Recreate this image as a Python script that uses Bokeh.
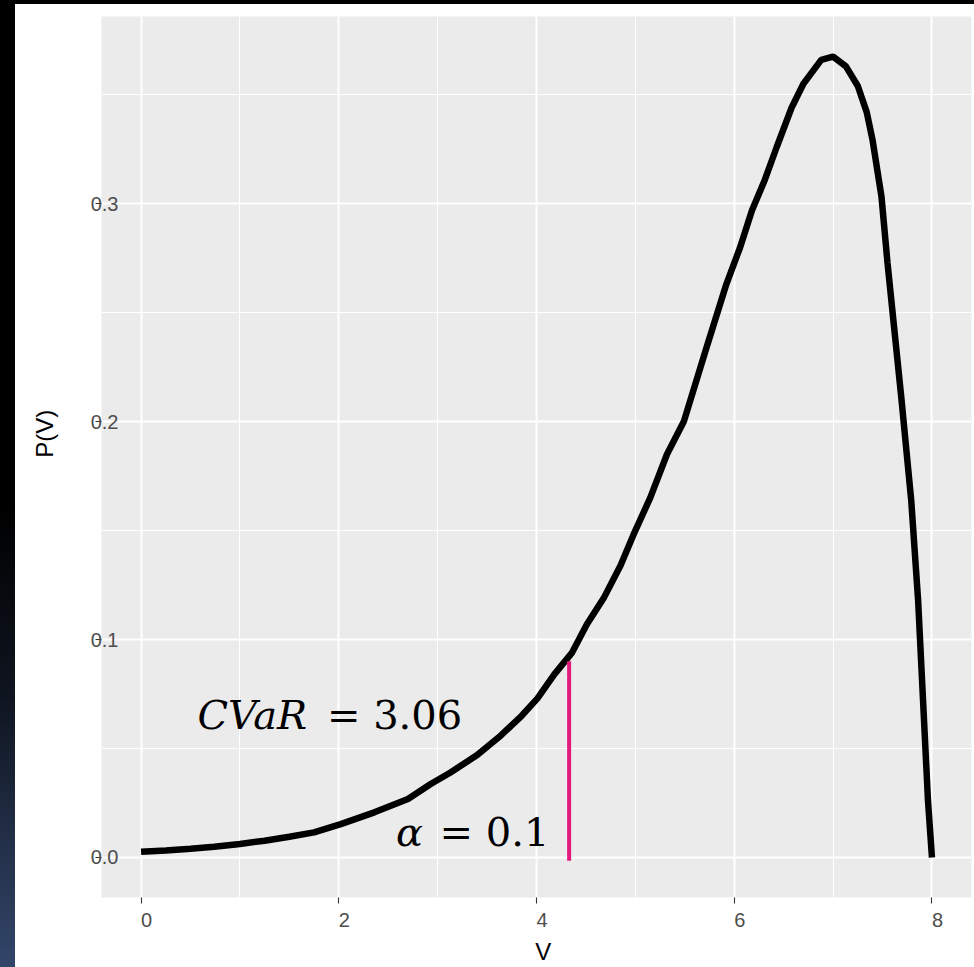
from bokeh.plotting import figure
from bokeh.models import Range1d, FixedTicker, CustomJSTickFormatter, Div
from bokeh.layouts import column, row
from bokeh.core.properties import value
from bokeh.embed import file_html
from bokeh.resources import INLINE

# Density of V
v = [0.00, 0.25, 0.50, 0.74, 1.00, 1.25, 1.50, 1.75, 2.02, 2.36, 2.70, 2.93,
     3.13, 3.40, 3.64, 3.85, 4.01, 4.18, 4.36, 4.51, 4.68, 4.85, 4.98, 5.15,
     5.32, 5.49, 5.72, 5.92, 6.06, 6.18, 6.31, 6.43, 6.58, 6.70, 6.88, 7.00,
     7.13, 7.25, 7.34, 7.40, 7.49, 7.55, 7.62, 7.69, 7.79, 7.86, 7.91, 7.96, 8.00]
pv = [0.0026, 0.0032, 0.0040, 0.0049, 0.0062, 0.0077, 0.0095, 0.0115, 0.0153, 0.0207, 0.0268, 0.0337,
      0.0390, 0.0470, 0.0560, 0.0650, 0.0730, 0.0840, 0.0940, 0.1070, 0.1190, 0.1340, 0.1480, 0.1650,
      0.1850, 0.2000, 0.2340, 0.2630, 0.2800, 0.2970, 0.3110, 0.3260, 0.3440, 0.3550, 0.3660, 0.3675,
      0.3630, 0.3540, 0.3420, 0.3290, 0.3030, 0.2730, 0.2420, 0.2110, 0.1640, 0.1180, 0.0720, 0.0260, 0.0000]

# VaR cut at alpha = 0.1
alpha_v = [4.33]
alpha_lo = [-0.0015]
alpha_hi = [0.090]

x_major = [0, 2, 4, 6, 8]
x_minor = [1, 3, 5, 7]
y_major = [0.0, 0.1, 0.2, 0.3]
y_minor = [0.05, 0.15, 0.25, 0.35]

PAD = "\u00a0"

y_lo = min(pv) - 0.05 * (max(pv) - min(pv))
y_hi = max(pv) + 0.05 * (max(pv) - min(pv))

p = figure(width=959, height=963,
           x_range=Range1d(-0.4, 8.4), y_range=Range1d(y_lo, y_hi),
           output_backend="svg", toolbar_location=None,
           background_fill_color="#EBEBEB", border_fill_color="white",
           min_border_left=86, min_border_right=3, min_border_top=12,
           min_border_bottom=70)
p.outline_line_color = None
p.margin = 0

# grid
p.xaxis.ticker = FixedTicker(ticks=x_major, minor_ticks=x_minor)
p.yaxis.ticker = FixedTicker(ticks=y_major, minor_ticks=y_minor)
for g in (p.xgrid[0], p.ygrid[0]):
    g.grid_line_color = "white"
    g.grid_line_width = 2
    g.minor_grid_line_color = "white"
    g.minor_grid_line_width = 1.1

# axes
for ax in (p.xaxis[0], p.yaxis[0]):
    ax.axis_line_color = None
    ax.major_tick_line_color = "#333333"
    ax.major_tick_line_width = 1.1
    ax.major_tick_out = 6
    ax.major_tick_in = 0
    ax.minor_tick_out = 0
    ax.minor_tick_in = 0
    ax.minor_tick_line_color = None
    ax.major_label_text_font = "Liberation Sans"
    ax.major_label_text_font_size = "20px"
    ax.major_label_text_color = "#4D4D4D"
    ax.axis_label_text_font = "Liberation Sans"
    ax.axis_label_text_font_size = "24px"
    ax.axis_label_text_font_style = "normal"
    ax.axis_label_text_color = "black"

p.xaxis.formatter = CustomJSTickFormatter(code="return '\\u00a0\\u00a0' + tick.toFixed(0);")
p.yaxis.formatter = CustomJSTickFormatter(code="return tick.toFixed(1);")
p.xaxis.major_label_standoff = 5
p.yaxis.major_label_standoff = -23
p.xaxis.axis_label = PAD * 2 + "V"
p.xaxis.axis_label_standoff = 4
p.yaxis.axis_label = PAD * 7 + "P(V)"
p.yaxis.axis_label_standoff = 30

# density curve
p.line(v, pv, line_color="black", line_width=6.5)

# alpha cut
p.segment(x0=alpha_v, y0=alpha_lo, x1=alpha_v, y1=alpha_hi,
          line_color="#E3197B", line_width=4)

# annotations
serif = value("DejaVu Serif")
p.text(x=[0.57], y=[0.0655], text=["CVaR"], text_font=serif,
       text_font_style="italic", text_font_size="40px",
       text_baseline="alphabetic", text_align="left", text_color="black")
p.text(x=[1.88], y=[0.0655], text=["= 3.06"], text_font=serif,
       text_font_size="40px", text_baseline="alphabetic",
       text_align="left", text_color="black")
p.text(x=[2.58], y=[0.0118], text=["\u03b1"], text_font=serif,
       text_font_style="italic", text_font_size="40px",
       text_baseline="alphabetic", text_align="left", text_color="black")
p.text(x=[3.02], y=[0.0118], text=["= 0.1"], text_font=serif,
       text_font_size="40px", text_baseline="alphabetic",
       text_align="left", text_color="black")

# page frame: dark top band and shaded left strip
top_band = Div(text="", width=974, height=4, margin=0,
               styles={"background-color": "black"})
side = Div(text="", width=15, height=963, margin=0,
           styles={"background": "linear-gradient(to bottom, #000000 0%, #000000 52%, #0f1520 72%, #33466a 100%)"})
layout = column(top_band, row(side, p, spacing=0, margin=0), spacing=0, margin=0)

open("out.html", "w").write(file_html(layout, INLINE))
